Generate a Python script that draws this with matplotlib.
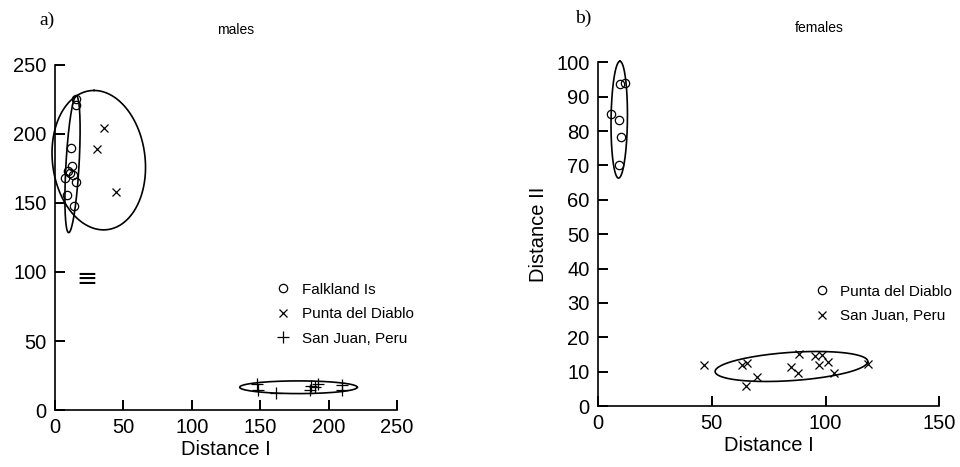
import numpy as np
import matplotlib.pyplot as plt

plt.rcParams['font.family'] = ['Liberation Sans', 'DejaVu Sans']

# males (panel a)
falk_x = [15, 15.4, 12, 12.2, 9.7, 12.9, 7.3, 15.1, 9, 13.9, 11]
falk_y = [225, 221, 190, 177, 173, 170, 168, 165, 156, 148, 172]
pdd_m_x = [36, 30.5, 44.3]
pdd_m_y = [204, 189, 158]
sj_m_x = [147.4, 148.6, 161.3, 187.1, 186.4, 192.5, 190, 209.6, 209.6]
sj_m_y = [18.8, 14.5, 12, 17.4, 14.5, 18.8, 17, 18, 14.5]

# females (panel b)
pdd_f_x = [5.6, 9.7, 12, 9.2, 10, 9.4]
pdd_f_y = [85.1, 93.6, 94, 83.2, 78.3, 70.2]
sj_f_x = [46.6, 63.2, 65.6, 64.9, 69.8, 84.8, 88, 88.4, 95.4, 98.6, 97.3, 101.2, 103.9, 118.8]
sj_f_y = [11.8, 12, 12.4, 5.9, 8.4, 11.3, 9.5, 15.2, 14.6, 14.9, 12, 12.9, 9.7, 12.2]

# ellipses: centre, conjugate half-axis vectors
ell_a = [((12.8, 178), (2.8, 49.5), (4.8, 0)),
         ((32, 181), (-3.5, 50.5), (34, 0)),
         ((178, 16.5), (43, 0), (0, 4.6))]
ell_b = [((9.3, 83.3), (0.3, 17), (3.6, 0)),
         ((85, 11.5), (33.5, 1.2), (2, 4.2))]


def draw_ellipse(ax, c, a, b):
    t = np.linspace(0, 2 * np.pi, 200)
    ex = c[0] + a[0] * np.cos(t) + b[0] * np.sin(t)
    ey = c[1] + a[1] * np.cos(t) + b[1] * np.sin(t)
    ax.plot(ex, ey, color='black', lw=1.2, clip_on=False)


def style(ax, xt, yt):
    ax.spines['top'].set_visible(False)
    ax.spines['right'].set_visible(False)
    ax.spines['left'].set_linewidth(1.2)
    ax.spines['bottom'].set_linewidth(1.2)
    ax.set_xticks(xt)
    ax.set_yticks(yt)
    ax.tick_params(direction='in', length=7, width=1.4, labelsize=14.5, pad=6)
    ax.set_xlabel('Distance I', fontsize=14.5, labelpad=2)


fig = plt.figure(figsize=(9.6, 4.67), dpi=100)
ax1 = fig.add_axes([0.0573, 0.122, 0.3562, 0.739])
ax2 = fig.add_axes([0.623, 0.1306, 0.3555, 0.736])

mk = dict(color='black', linestyle='none', clip_on=False)
leg = dict(loc='upper left', frameon=False, fontsize=11, handlelength=0.8,
           handletextpad=0.8, labelspacing=0.69, borderaxespad=0)

ax1.plot(falk_x, falk_y, marker='o', mfc='none', ms=6, mew=0.9, label='Falkland Is', **mk)
ax1.plot(pdd_m_x, pdd_m_y, marker='x', ms=6, mew=0.9, label='Punta del Diablo', **mk)
ax1.plot(sj_m_x, sj_m_y, marker='+', ms=8, mew=0.9, label='San Juan, Peru', **mk)
for c, a, b in ell_a:
    draw_ellipse(ax1, c, a, b)
ax1.text(23.5, 95, '\u2261', fontsize=18, ha='center', va='center', family='DejaVu Sans')
ax1.set_xlim(0, 250)
ax1.set_ylim(0, 250)
style(ax1, [0, 50, 100, 150, 200, 250], [0, 50, 100, 150, 200, 250])
ax1.text(132, 275, 'males', fontsize=10, ha='center', va='center')
ax1.legend(bbox_to_anchor=(0.632, 0.387), **leg)

ax2.plot(pdd_f_x, pdd_f_y, marker='o', mfc='none', ms=6, mew=0.9, label='Punta del Diablo', **mk)
ax2.plot(sj_f_x, sj_f_y, marker='x', ms=6, mew=0.9, label='San Juan, Peru', **mk)
for c, a, b in ell_b:
    draw_ellipse(ax2, c, a, b)
ax2.set_xlim(0, 150)
ax2.set_ylim(0, 100)
style(ax2, [0, 50, 100, 150], list(range(0, 101, 10)))
ax2.set_ylabel('Distance II', fontsize=14.5, labelpad=6)
ax2.text(97, 110, 'females', fontsize=10, ha='center', va='center')
ax2.legend(bbox_to_anchor=(0.62, 0.371), **leg)

fig.text(47 / 960, 1 - 20 / 467, 'a)', fontsize=14, family='Liberation Serif', ha='center', va='center')
fig.text(583 / 960, 1 - 18 / 467, 'b)', fontsize=14, family='Liberation Serif', ha='center', va='center')

fig.savefig('out.png', dpi=100)
